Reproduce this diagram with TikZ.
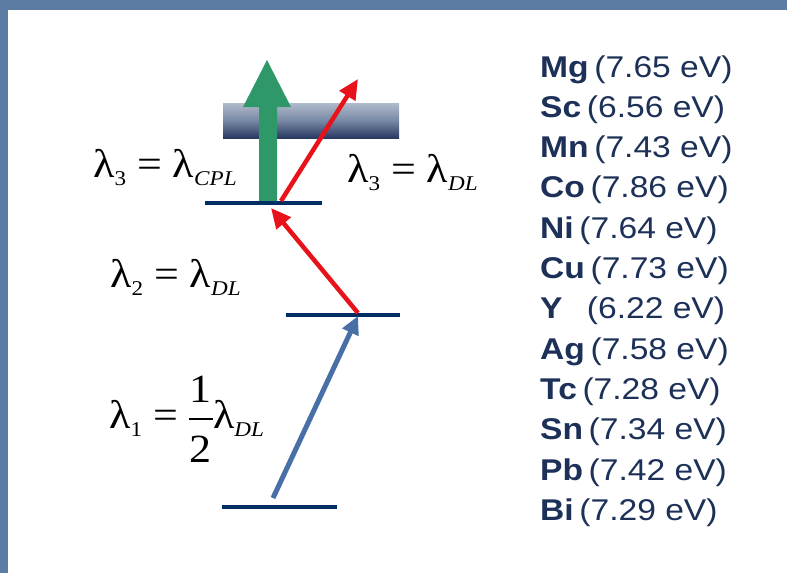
\documentclass[tikz,border=0pt]{standalone}
\usepackage{fontspec}
\setmainfont{Liberation Serif}
\newfontfamily\lsans{Liberation Sans}
\newfontfamily\lserif{Liberation Serif}
\usetikzlibrary{arrows.meta}
\definecolor{frameblue}{RGB}{92,124,164}
\definecolor{levelnavy}{RGB}{0,45,98}
\definecolor{listnavy}{RGB}{28,48,88}
\definecolor{arrgreen}{RGB}{46,152,104}
\definecolor{arrred}{RGB}{232,18,26}
\definecolor{arrblue}{RGB}{72,112,166}
\definecolor{bartop}{RGB}{176,186,204}
\definecolor{barmid}{RGB}{120,136,164}
\definecolor{barbot}{RGB}{40,58,98}
\newcommand{\lamsub}[1]{\raisebox{-8pt}{\fontsize{21}{21}\selectfont #1}}
\newcommand{\lamsubit}[1]{\raisebox{-8pt}{\fontsize{21}{21}\selectfont\itshape #1}}
\newcommand{\halffrac}{\makebox[22pt][c]{\raisebox{26pt}{1}}\hspace{-22pt}\makebox[22pt][c]{\raisebox{8pt}{\rule{22pt}{1.8pt}}}\hspace{-22pt}\makebox[22pt][c]{\raisebox{-34pt}{2}}}
\newcommand{\elem}[2]{\scalebox{1.12}[1]{\textbf{#1}\,#2}}
\tikzset{
  level/.style={draw=levelnavy, line width=4pt},
  lamlabel/.style={inner sep=0pt, anchor=base west, font=\lserif\fontsize{40}{44}\selectfont, text=black},
  elemlabel/.style={inner sep=0pt, anchor=base west, font=\lsans\fontsize{30}{34}\selectfont, text=listnavy},
  redarrow/.style={draw=arrred, line width=4.5pt, -{Triangle[length=20pt,width=18pt]}},
  bluearrow/.style={draw=arrblue, line width=5pt, -{Triangle[length=18pt,width=17pt]}},
}
\begin{document}
\begin{tikzpicture}[x=1pt,y=-1pt]
\useasboundingbox (0,0) rectangle (787,573);
\fill[frameblue] (0,0) rectangle (787,573);
\fill[white] (8,10) rectangle (787,573);
% bar
\shade[top color=bartop, bottom color=barbot, middle color=barmid] (223,103) rectangle (399,138);
% levels
\coordinate (l1a) at (222,507); \coordinate (l1b) at (337,507);
\coordinate (l2a) at (286,315); \coordinate (l2b) at (400,315);
\coordinate (l3a) at (205,203); \coordinate (l3b) at (322,203);
\draw[level] (l1a) -- (l1b);
\draw[level] (l2a) -- (l2b);
% green arrow
\fill[arrgreen] (259,202) -- (259,107) -- (243,107) -- (267,60) -- (291,107) -- (277,107) -- (277,202) -- cycle;
\draw[level] (l3a) -- (l3b);
% arrows
\coordinate (b0) at (273,498); \coordinate (b1) at (358,316);
\coordinate (r0) at (358,313); \coordinate (r1) at (271,208);
\coordinate (s0) at (281,201); \coordinate (s1) at (358,79);
\draw[bluearrow] (b0) -- (b1);
\draw[redarrow] (r0) -- (r1);
\draw[redarrow] (s0) -- (s1);
% lambda labels
\node[lamlabel] (lab3a) at (93,177) {\scalebox{1.1}[1]{λ\lamsub{3} = λ\lamsubit{CPL}}};
\node[lamlabel] (lab3b) at (347,182) {\scalebox{1.1}[1]{λ\lamsub{3} = λ\lamsubit{DL}}};
\node[lamlabel] (lab2) at (110,287) {\scalebox{1.1}[1]{λ\lamsub{2} = λ\lamsubit{DL}}};
\node[lamlabel] (lab1) at (109,428) {\scalebox{1.1}[1]{λ\lamsub{1} = \halffrac λ\lamsubit{DL}}};
% element list
\node[elemlabel] (e1) at (540,77.0) {\elem{Mg}{(7.65 eV)}};
\node[elemlabel] (e2) at (540,117.3) {\elem{Sc}{(6.56 eV)}};
\node[elemlabel] (e3) at (540,157.6) {\elem{Mn}{(7.43 eV)}};
\node[elemlabel] (e4) at (540,197.9) {\elem{Co}{(7.86 eV)}};
\node[elemlabel] (e5) at (540,238.2) {\elem{Ni}{(7.64 eV)}};
\node[elemlabel] (e6) at (540,278.5) {\elem{Cu}{(7.73 eV)}};
\node[elemlabel] (e7) at (540,318.8) {\elem{Y}{\ \ (6.22 eV)}};
\node[elemlabel] (e8) at (540,359.1) {\elem{Ag}{(7.58 eV)}};
\node[elemlabel] (e9) at (540,399.4) {\elem{Tc}{(7.28 eV)}};
\node[elemlabel] (e10) at (540,439.7) {\elem{Sn}{(7.34 eV)}};
\node[elemlabel] (e11) at (540,480.0) {\elem{Pb}{(7.42 eV)}};
\node[elemlabel] (e12) at (540,520.3) {\elem{Bi}{(7.29 eV)}};
\end{tikzpicture}
\end{document}
